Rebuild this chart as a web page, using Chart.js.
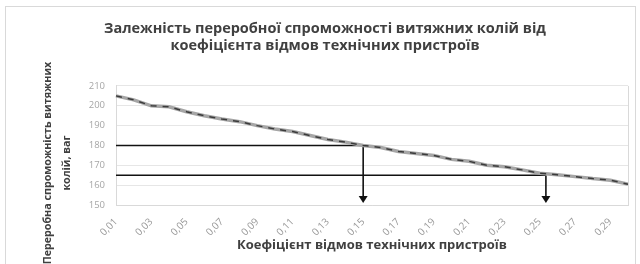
<!DOCTYPE html>
<html><head><meta charset="utf-8">
<script src="https://cdn.jsdelivr.net/npm/chart.js@4"></script>
<style>html,body{margin:0;padding:0;background:#fff}#wrap{width:640px;height:264px;position:relative}</style>
</head><body><div id="wrap"><canvas id="c" width="640" height="264"></canvas></div>
<script>
// ---- data ----
const categories = [0.01,0.02,0.03,0.04,0.05,0.06,0.07,0.08,0.09,0.10,0.11,0.12,0.13,0.14,0.15,
                    0.16,0.17,0.18,0.19,0.20,0.21,0.22,0.23,0.24,0.25,0.26,0.27,0.28,0.29,0.30];
const tickLabels = ['0,01','0,02','0,03','0,04','0,05','0,06','0,07','0,08','0,09','0,10','0,11','0,12','0,13','0,14','0,15',
                    '0,16','0,17','0,18','0,19','0,20','0,21','0,22','0,23','0,24','0,25','0,26','0,27','0,28','0,29','0,30'];
const capacity = [205,203,200,199.5,197,195,193.3,192,190,188.3,187,185,183,181.7,180,
                  179,177,176,175,173,172,170,169.3,167.7,166,165.2,164.3,163.3,162.5,160.5];
const refLevels = [180,165];
const refCoefs = [0.15,0.2535];
const yTicks = [150,160,170,180,190,200,210];
const titleLines = ['Залежність переробної спроможності витяжних колій від','коефіцієнта відмов технічних пристроїв'];
const xTitle = 'Коефіцієнт відмов технічних пристроїв';
const yTitleLines = ['Переробна спроможність витяжних','колій, ваг'];

const FONT = "'Open Sans', 'Liberation Sans', sans-serif";
const TXT = '#404040';

const framePlugin = {
  id: 'frame',
  beforeDraw(chart) {
    const ctx = chart.ctx;
    ctx.save();
    ctx.fillStyle = '#fff';
    ctx.fillRect(0,0,chart.width,chart.height);
    ctx.strokeStyle = '#d9d9d9';
    ctx.lineWidth = 1;
    ctx.strokeRect(5.5, 6.5, chart.width - 10, chart.height - 4);
    ctx.restore();
  },
  afterDraw(chart) {
    const ctx = chart.ctx, a = chart.chartArea;
    ctx.save();
    ctx.strokeStyle = '#d9d9d9';
    ctx.lineWidth = 1;
    ctx.beginPath();
    ctx.moveTo(Math.round(a.right)+0.5, a.top);
    ctx.lineTo(Math.round(a.right)+0.5, a.bottom);
    ctx.stroke();
    // y axis title (two rotated lines)
    ctx.fillStyle = TXT;
    ctx.font = "bold 10.7px " + FONT;
    ctx.textAlign = 'center';
    ctx.textBaseline = 'middle';
    const cy = 163;
    const xs = [48, 67];
    yTitleLines.forEach((t,i) => {
      ctx.save();
      ctx.translate(xs[i], cy);
      ctx.rotate(-Math.PI/2);
      ctx.fillText(t, 0, 0);
      ctx.restore();
    });
    ctx.restore();
  }
};

const refPlugin = {
  id: 'refs',
  beforeDatasetsDraw(chart) {
    const ctx = chart.ctx, a = chart.chartArea;
    const xs = chart.scales.x, ys = chart.scales.y;
    const step = categories[1]-categories[0];
    ctx.save();
    ctx.strokeStyle = '#111';
    ctx.fillStyle = '#111';
    ctx.lineWidth = 1.6;
    refLevels.forEach((lv,i) => {
      const y = ys.getPixelForValue(lv);
      const x = xs.getPixelForValue((refCoefs[i]-categories[0])/step);
      ctx.beginPath();
      ctx.moveTo(a.left, y);
      ctx.lineTo(x, y);
      ctx.stroke();
      const yb = a.bottom - 2;
      ctx.beginPath();
      ctx.moveTo(x, y);
      ctx.lineTo(x, yb - 6);
      ctx.stroke();
      ctx.beginPath();
      ctx.moveTo(x - 4.5, yb - 7);
      ctx.lineTo(x + 4.5, yb - 7);
      ctx.lineTo(x, yb);
      ctx.closePath();
      ctx.fill();
    });
    ctx.restore();
  }
};

new Chart(document.getElementById('c'), {
  type: 'line',
  data: {
    labels: tickLabels,
    datasets: [
      { data: capacity, borderColor: '#a6a6a6', borderWidth: 3.5, pointRadius: 0, tension: 0, order: 2 },
      { data: capacity, borderColor: '#3a3a3a', borderWidth: 1.5, borderDash: [6,6], pointRadius: 0, tension: 0, order: 1 }
    ]
  },
  options: {
    responsive: false,
    animation: false,
    devicePixelRatio: 1,
    layout: { padding: { left: 22, right: 12, top: 0, bottom: 0 } },
    plugins: {
      legend: { display: false },
      tooltip: { enabled: false },
      title: {
        display: true,
        text: titleLines,
        color: TXT,
        font: { family: FONT, size: 14.5, weight: 'bold', lineHeight: 1.15 },
        padding: { top: 20.7, bottom: 31.9 }
      }
    },
    scales: {
      x: {
        grid: { display: false },
        border: { display: true, color: '#d9d9d9' },
        ticks: {
          color: '#999999',
          font: { family: FONT, size: 10 },
          autoSkip: false,
          maxRotation: 45, minRotation: 45,
          padding: 3,
          callback: function(v, i) { return i % 2 === 0 ? tickLabels[i] : ''; }
        },
        title: {
          display: true, text: xTitle, color: TXT,
          font: { family: FONT, size: 13, weight: 'bold', lineHeight: 1.2 },
          padding: { top: 0, bottom: 11 }
        },
        afterFit(scale) { scale.height = 59; }
      },
      y: {
        min: 150, max: 210,
        afterBuildTicks(scale) { scale.ticks = yTicks.map(v => ({ value: v })); },
        grid: { color: '#e6e6e6', drawTicks: false },
        border: { display: true, color: '#d9d9d9' },
        ticks: { color: '#a6a6a6', font: { family: FONT, size: 9.5 }, padding: 11 },
        afterFit(scale) { scale.width = 94; }
      }
    }
  },
  plugins: [framePlugin, refPlugin]
});
</script>
</body></html>
